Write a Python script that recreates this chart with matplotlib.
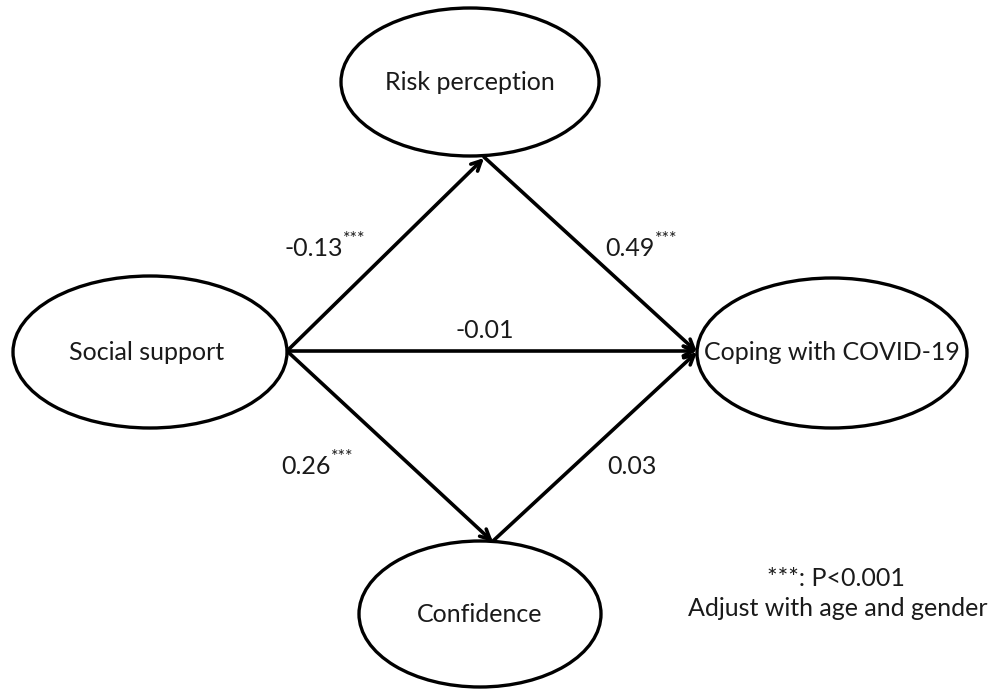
import matplotlib
matplotlib.use("Agg")
import matplotlib.pyplot as plt
from matplotlib.patches import Ellipse

# ---- data ----
nodes = ["Social support", "Risk perception", "Confidence", "Coping with COVID-19"]
paths_from = ["Social support", "Social support", "Social support", "Risk perception", "Confidence"]
paths_to = ["Risk perception", "Confidence", "Coping with COVID-19", "Coping with COVID-19", "Coping with COVID-19"]
coefs = ["-0.13", "0.26", "-0.01", "0.49", "0.03"]
sig = ["***", "***", "", "***", ""]
notes = ["***: P<0.001", "Adjust with age and gender"]

# ---- layout (pixel coords, y down) ----
centers = {"Social support": (150, 352), "Risk perception": (470, 82),
           "Confidence": (480, 614), "Coping with COVID-19": (832, 353)}
sizes = {"Social support": (274, 152), "Risk perception": (258, 148),
         "Confidence": (242, 146), "Coping with COVID-19": (270, 150)}
starts = {0: (287, 351), 1: (287, 351), 2: (287, 351), 3: (484, 157), 4: (493, 541)}
ends = {0: (484, 158), 1: (493, 542), 2: (697, 351), 3: (697, 352), 4: (697, 352)}
label_pos = {0: (343, 249), 1: (331, 467), 2: (485, 330), 3: (655, 249), 4: (632, 467)}

FONT = "Lato"
FS = 18
fig = plt.figure(figsize=(9.93, 6.89), dpi=100)
ax = fig.add_axes([0, 0, 1, 1])
ax.set_xlim(0, 993)
ax.set_ylim(689, 0)
ax.axis("off")

for n in nodes:
    cx, cy = centers[n]
    w, h = sizes[n]
    ax.add_patch(Ellipse((cx, cy), w, h, facecolor="white", edgecolor="black", lw=2.4, zorder=2))
    tx = cx - 3 if n == "Social support" else cx
    ax.text(tx, cy, n, ha="center", va="center", fontsize=FS, family=FONT, color="#1a1a1a", zorder=3)

for i in range(len(coefs)):
    ax.annotate("", xy=ends[i], xytext=starts[i],
                arrowprops=dict(arrowstyle="->,head_length=0.7,head_width=0.35", lw=2.6,
                                color="black", shrinkA=0, shrinkB=0), zorder=1)
    x, y = label_pos[i]
    if sig[i]:
        ax.text(x, y, coefs[i], ha="right", va="center", fontsize=FS, family=FONT, color="#1a1a1a")
        ax.text(x, y - 10, sig[i], ha="left", va="center", fontsize=13, family=FONT, color="#1a1a1a")
    else:
        ax.text(x, y, coefs[i], ha="center", va="center", fontsize=FS, family=FONT, color="#1a1a1a")

ax.text(836, 578, notes[0], ha="center", va="center", fontsize=FS, family=FONT, color="#1a1a1a")
ax.text(838, 608, notes[1], ha="center", va="center", fontsize=FS, family=FONT, color="#1a1a1a")

fig.savefig("out.png", dpi=100, facecolor="white")
